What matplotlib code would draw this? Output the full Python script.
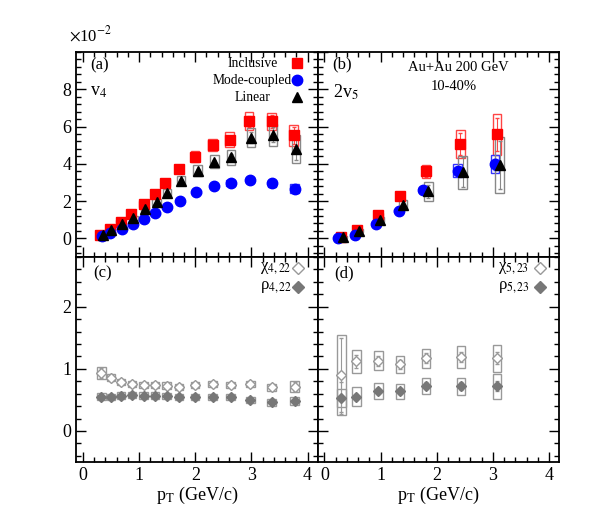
import numpy as np
import matplotlib.pyplot as plt
from matplotlib.patches import Rectangle
from matplotlib.ticker import MultipleLocator

plt.rcParams['font.family'] = ['Liberation Serif', 'DejaVu Serif']
plt.rcParams['mathtext.fontset'] = 'stix'

# ---- panel (a): v4 (x10^-2)
pt_a = [0.30, 0.48, 0.67, 0.86, 1.08, 1.28, 1.47, 1.71, 2.00, 2.31, 2.61, 2.96, 3.36, 3.75]
v4_incl = [0.2, 0.5, 0.9, 1.32, 1.85, 2.38, 2.99, 3.72, 4.37, 5.01, 5.3, 6.29, 6.27, 5.53]
v4_incl_sys = [0.05, 0.07, 0.1, 0.12, 0.15, 0.18, 0.2, 0.22, 0.3, 0.3, 0.38, 0.48, 0.45, 0.55]
v4_incl_err = [0.02, 0.02, 0.03, 0.03, 0.04, 0.05, 0.06, 0.08, 0.1, 0.12, 0.2, 0.3, 0.35, 0.45]
pt_a_mc = [0.34, 0.49, 0.69, 0.89, 1.09, 1.29, 1.49, 1.73, 2.02, 2.33, 2.63, 2.97, 3.37, 3.77]
v4_mc = [0.1, 0.28, 0.48, 0.78, 1.05, 1.35, 1.67, 2.03, 2.47, 2.83, 2.97, 3.15, 2.95, 2.67]
v4_mc_sys = [0.04, 0.05, 0.05, 0.06, 0.07, 0.08, 0.09, 0.1, 0.1, 0.12, 0.14, 0.16, 0.18, 0.25]
v4_mc_err = [0.01, 0.01, 0.02, 0.02, 0.02, 0.03, 0.03, 0.04, 0.05, 0.06, 0.08, 0.1, 0.12, 0.15]
pt_a_lin = [0.36, 0.50, 0.70, 0.90, 1.10, 1.31, 1.50, 1.75, 2.04, 2.34, 2.64, 2.99, 3.38, 3.79]
v4_lin = [0.2, 0.45, 0.75, 1.1, 1.55, 1.95, 2.45, 3.1, 3.63, 4.1, 4.35, 5.4, 5.55, 4.8]
v4_lin_sys = [0.05, 0.07, 0.1, 0.12, 0.15, 0.18, 0.2, 0.25, 0.3, 0.35, 0.4, 0.5, 0.6, 0.75]
v4_lin_err = [0.02, 0.02, 0.03, 0.03, 0.04, 0.05, 0.06, 0.08, 0.1, 0.12, 0.2, 0.3, 0.4, 0.6]

# ---- panel (b): 2 v5 (x10^-2)
pt_b = [0.30, 0.58, 0.96, 1.35, 1.81, 2.42, 3.07]
v5_incl = [0.05, 0.43, 1.23, 2.29, 3.59, 5.05, 5.58]
v5_incl_sys = [0.06, 0.08, 0.12, 0.2, 0.35, 0.75, 1.1]
v5_incl_err = [0.03, 0.05, 0.1, 0.15, 0.3, 0.6, 0.9]
pt_b_mc = [0.25, 0.54, 0.92, 1.32, 1.76, 2.37, 3.04]
v5_mc = [0.0, 0.2, 0.78, 1.49, 2.6, 3.63, 3.98]
v5_mc_sys = [0.04, 0.05, 0.07, 0.1, 0.15, 0.35, 0.5]
v5_mc_err = [0.02, 0.03, 0.05, 0.08, 0.12, 0.2, 0.3]
pt_b_lin = [0.33, 0.61, 0.99, 1.40, 1.85, 2.46, 3.12]
v5_lin = [0.07, 0.4, 1.0, 1.8, 2.52, 3.54, 3.95]
v5_lin_sys = [0.06, 0.08, 0.12, 0.25, 0.5, 0.9, 1.5]
v5_lin_err = [0.04, 0.06, 0.1, 0.2, 0.35, 0.8, 1.3]

# ---- panel (c): chi_4,22 and rho_4,22
pt_c = [0.33, 0.50, 0.68, 0.87, 1.08, 1.28, 1.49, 1.71, 2.00, 2.31, 2.63, 2.98, 3.36, 3.77]
chi4 = [0.93, 0.86, 0.79, 0.75, 0.74, 0.74, 0.73, 0.71, 0.74, 0.75, 0.74, 0.75, 0.70, 0.71]
chi4_sys = [0.1, 0.06, 0.05, 0.05, 0.05, 0.05, 0.05, 0.05, 0.05, 0.05, 0.05, 0.05, 0.06, 0.09]
chi4_err = [0.08, 0.04, 0.02, 0.02, 0.02, 0.02, 0.02, 0.02, 0.02, 0.02, 0.02, 0.03, 0.04, 0.07]
rho4 = [0.55, 0.54, 0.57, 0.58, 0.57, 0.57, 0.56, 0.54, 0.55, 0.55, 0.55, 0.50, 0.46, 0.48]
rho4_sys = [0.06, 0.05, 0.05, 0.05, 0.05, 0.05, 0.05, 0.05, 0.05, 0.05, 0.05, 0.05, 0.06, 0.07]
rho4_err = [0.02, 0.02, 0.02, 0.02, 0.02, 0.02, 0.02, 0.02, 0.02, 0.02, 0.02, 0.02, 0.03, 0.04]

# ---- panel (d): chi_5,23 and rho_5,23
pt_d = [0.30, 0.57, 0.96, 1.35, 1.81, 2.43, 3.07]
chi5 = [0.90, 1.12, 1.13, 1.07, 1.17, 1.19, 1.17]
chi5_sys = [0.65, 0.19, 0.15, 0.14, 0.15, 0.18, 0.22]
chi5_err = [0.6, 0.1, 0.08, 0.07, 0.08, 0.08, 0.1]
rho5 = [0.53, 0.55, 0.64, 0.64, 0.73, 0.72, 0.72]
rho5_sys = [0.15, 0.15, 0.13, 0.12, 0.13, 0.14, 0.2]
rho5_err = [0.25, 0.05, 0.05, 0.05, 0.05, 0.06, 0.08]

RED = '#ff0000'
BLUE = '#0000ff'
GRAY = '#777777'


def boxes(ax, x, y, s, color, hw=0.075):
    for xi, yi, si in zip(x, y, s):
        ax.add_patch(Rectangle((xi - hw, yi - si), 2 * hw, 2 * si, fill=False,
                               edgecolor=color, lw=1.0, zorder=2))


def series(ax, x, y, s, e, mk, mc, bc, ms, mfc=None):
    boxes(ax, x, y, s, bc)
    ax.errorbar(x, y, yerr=e, fmt='none', ecolor=bc, elinewidth=0.8, capsize=1.5, zorder=3)
    ax.plot(x, y, mk, color=mc, mfc=mc if mfc is None else mfc, mec=mc, ms=ms, ls='none', zorder=4)


fig = plt.figure(figsize=(6, 5.25), dpi=100)
gs = fig.add_gridspec(2, 2, left=0.127, right=0.932, top=0.901, bottom=0.12, hspace=0, wspace=0)
axa = fig.add_subplot(gs[0, 0])
axb = fig.add_subplot(gs[0, 1])
axc = fig.add_subplot(gs[1, 0])
axd = fig.add_subplot(gs[1, 1])

series(axa, pt_a, v4_incl, v4_incl_sys, v4_incl_err, 's', RED, '#ff4444', 7)
series(axa, pt_a_mc, v4_mc, v4_mc_sys, v4_mc_err, 'o', BLUE, '#3333ff', 7.5)
series(axa, pt_a_lin, v4_lin, v4_lin_sys, v4_lin_err, '^', 'black', '#888888', 7.5)

series(axb, pt_b, v5_incl, v5_incl_sys, v5_incl_err, 's', RED, '#ff4444', 7)
series(axb, pt_b_mc, v5_mc, v5_mc_sys, v5_mc_err, 'o', BLUE, '#3333ff', 7.5)
series(axb, pt_b_lin, v5_lin, v5_lin_sys, v5_lin_err, '^', 'black', '#888888', 7.5)

series(axc, pt_c, chi4, chi4_sys, chi4_err, 'D', '#999999', '#999999', 5.5, mfc='white')
series(axc, pt_c, rho4, rho4_sys, rho4_err, 'D', GRAY, '#999999', 5.5)
series(axd, pt_d, chi5, chi5_sys, chi5_err, 'D', '#999999', '#999999', 5.5, mfc='white')
series(axd, pt_d, rho5, rho5_sys, rho5_err, 'D', GRAY, '#999999', 5.5)

for ax in (axa, axb, axc, axd):
    ax.set_xlim(-0.12, 4.18)
    ax.xaxis.set_major_locator(MultipleLocator(1))
    ax.xaxis.set_minor_locator(MultipleLocator(0.2))
    ax.tick_params(which='both', direction='in', top=True, right=True, labelsize=13)
    ax.tick_params(which='major', length=7, width=1)
    ax.tick_params(which='minor', length=3.5, width=1)
    for sp in ax.spines.values():
        sp.set_linewidth(1.3)

for ax in (axa, axb):
    ax.set_ylim(-1, 10)
    ax.yaxis.set_major_locator(MultipleLocator(2))
    ax.yaxis.set_minor_locator(MultipleLocator(0.4))
    ax.tick_params(labelbottom=False)
for ax in (axc, axd):
    ax.set_ylim(-0.5, 2.8)
    ax.yaxis.set_major_locator(MultipleLocator(1))
    ax.yaxis.set_minor_locator(MultipleLocator(0.2))
    ax.set_xlabel(r'p$_{\rm T}$ (GeV/c)', fontsize=13, labelpad=1)
for ax in (axb, axd):
    ax.tick_params(labelleft=False)

axa.set_yticks([0, 2, 4, 6, 8])
axc.set_yticks([0, 1, 2])
fig.text(0.115, 0.915, r'$\times$10$^{-2}$', fontsize=12, ha='left', va='bottom')

# panel (a) texts and legend
axa.text(0.058, 0.937, '(a)', transform=axa.transAxes, fontsize=12, va='center')
axa.text(0.058, 0.805, r'v$_4$', transform=axa.transAxes, fontsize=13, va='center')
leg_a = [('Inclusive', 's', RED, 7), ('Mode-coupled', 'o', BLUE, 7.5), ('Linear', '^', 'black', 7.5)]
for i, (lab, mk, c, ms) in enumerate(leg_a):
    yy = 0.946 - i * 0.083
    axa.plot([0.913], [yy], mk, color=c, ms=ms, transform=axa.transAxes, clip_on=False)
    axa.text(0.73, yy, lab, transform=axa.transAxes, fontsize=9.8, ha='center', va='center')

# panel (b) texts
axb.text(0.062, 0.94, '(b)', transform=axb.transAxes, fontsize=12, va='center')
axb.text(0.062, 0.805, r'2v$_5$', transform=axb.transAxes, fontsize=13, va='center')
axb.text(0.583, 0.922, 'Au+Au 200 GeV', transform=axb.transAxes, fontsize=10.5, ha='center', va='center')
axb.text(0.562, 0.83, '10-40%', transform=axb.transAxes, fontsize=10.5, ha='center', va='center')

# panels (c), (d) texts and legends
for ax, lab, n, tx in ((axc, '(c)', '4,22', 0.76), (axd, '(d)', '5,23', 0.745)):
    ax.text(0.07, 0.922, lab, transform=ax.transAxes, fontsize=12, va='center')
    ax.plot([0.92], [0.946], 'D', color='#999999', mfc='white', ms=6, transform=ax.transAxes)
    ax.plot([0.92], [0.854], 'D', color=GRAY, ms=6, transform=ax.transAxes)
    ax.text(tx, 0.946, 'χ$_{%s}$' % n, transform=ax.transAxes, fontsize=12, ha='left', va='center')
    ax.text(tx, 0.854, 'ρ$_{%s}$' % n, transform=ax.transAxes, fontsize=12, ha='left', va='center')

plt.savefig('out.png', dpi=100)
